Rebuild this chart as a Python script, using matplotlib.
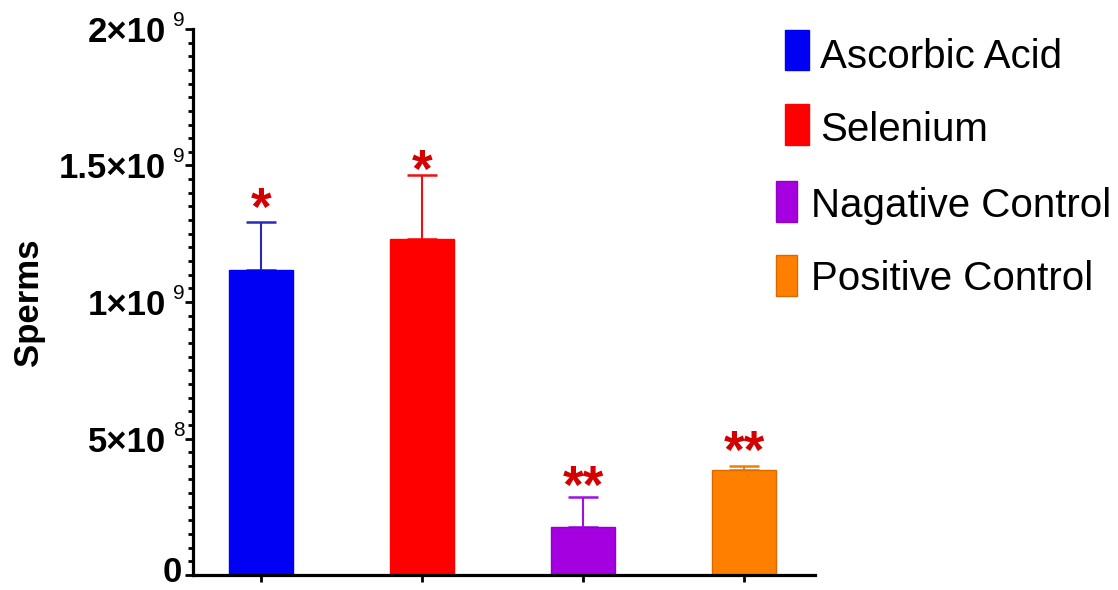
import matplotlib
matplotlib.use("Agg")
import matplotlib.pyplot as plt
from matplotlib.patches import Rectangle
from matplotlib.ticker import MultipleLocator, FixedLocator

# ---- data ----
categories = ["Ascorbic Acid", "Selenium", "Nagative Control", "Positive Control"]
means = [1.117e9, 1.231e9, 0.176e9, 0.385e9]
err_up = [0.176e9, 0.234e9, 0.110e9, 0.014e9]
stars = ["*", "*", "**", "**"]
star_y = [1.39e9, 1.53e9, 0.37e9, 0.50e9]
ytick_vals = [0, 5e8, 1e9, 1.5e9, 2e9]
ytick_main = ["0", "5×10", "1×10", "1.5×10", "2×10"]
ytick_exp = ["", "8", "9", "9", "9"]
ylabel = "Sperms"

# ---- styles ----
bar_colors = ["#0000f5", "#ff0000", "#a400e0", "#ff8000"]
edge_colors = ["#0000f5", "#ff0000", "#9000c8", "#d86a00"]
err_colors = ["#2a2ab8", "#f01010", "#a010e0", "#f08000"]
star_color = "#d40000"

plt.rcParams["font.family"] = ["Liberation Sans", "DejaVu Sans"]

W, H = 1118, 590
fig = plt.figure(figsize=(W / 100, H / 100), dpi=100)
ax = fig.add_axes([193 / W, (H - 575) / H, (815 - 193) / W, (575 - 29) / H])

x = list(range(len(categories)))
for i in x:
    ax.errorbar(i, means[i], yerr=[[0], [err_up[i]]], fmt="none",
                ecolor=err_colors[i], elinewidth=1.5, capsize=11, capthick=1.8,
                zorder=1)
    ax.bar(i, means[i], width=0.4, color=bar_colors[i], edgecolor=edge_colors[i],
           linewidth=1, zorder=2)
    ax.annotate(stars[i], (i, star_y[i]), xytext=(0, -21), textcoords="offset points",
                color=star_color, fontsize=38, fontweight="bold",
                ha="center", va="baseline", zorder=4)

ax.set_xlim(-0.422, 3.441)
ax.set_ylim(0, 2e9)

for s in ["top", "right"]:
    ax.spines[s].set_visible(False)
for s in ["left", "bottom"]:
    ax.spines[s].set_linewidth(2.3)
    ax.spines[s].set_color("black")

ax.set_xticks(x)
ax.set_xticklabels([])
ax.tick_params(axis="x", length=5, width=2, direction="out")

ax.yaxis.set_major_locator(FixedLocator(ytick_vals))
ax.set_yticklabels([])
ax.yaxis.set_minor_locator(MultipleLocator(5e7))
ax.tick_params(axis="y", which="major", length=6, width=2)
ax.tick_params(axis="y", which="minor", length=3.5, width=2)

ytr = ax.get_yaxis_transform()
px = 72 / 100  # points per pixel
for v, m, e in zip(ytick_vals, ytick_main, ytick_exp):
    if e:
        ax.annotate(m, (0, v), xycoords=ytr, xytext=(-27 * px, -13 * px),
                    textcoords="offset points", ha="right", va="baseline",
                    fontsize=25, fontweight="bold", annotation_clip=False)
        ax.annotate(e, (0, v), xycoords=ytr, xytext=(-20 * px, 3 * px),
                    textcoords="offset points", ha="left", va="baseline",
                    fontsize=15, fontweight="normal", annotation_clip=False)
    else:
        ax.annotate(m, (0, v), xycoords=ytr, xytext=(-11 * px, -7 * px),
                    textcoords="offset points", ha="right", va="baseline",
                    fontsize=25, fontweight="bold", annotation_clip=False)

fig.text(28 / W, 1 - 302 / H, ylabel, rotation=90, fontsize=25,
         fontweight="bold", ha="center", va="center")

# ---- legend (manual) ----
leg_patch = [(785, 30, 809, 70), (785, 104, 809, 145), (776, 181, 797, 222), (776, 255, 797, 296)]
leg_text = [(820, 68), (820, 141), (811, 217), (811, 290)]
for i, name in enumerate(categories):
    x0, y0, x1, y1 = leg_patch[i]
    fig.patches.append(Rectangle((x0 / W, 1 - y1 / H), (x1 - x0) / W, (y1 - y0) / H,
                                 transform=fig.transFigure, facecolor=bar_colors[i],
                                 edgecolor=edge_colors[i], linewidth=1))
    tx, ty = leg_text[i]
    fig.text(tx / W, 1 - ty / H, name, fontsize=29, ha="left", va="baseline")

fig.savefig("out.png", dpi=100)
